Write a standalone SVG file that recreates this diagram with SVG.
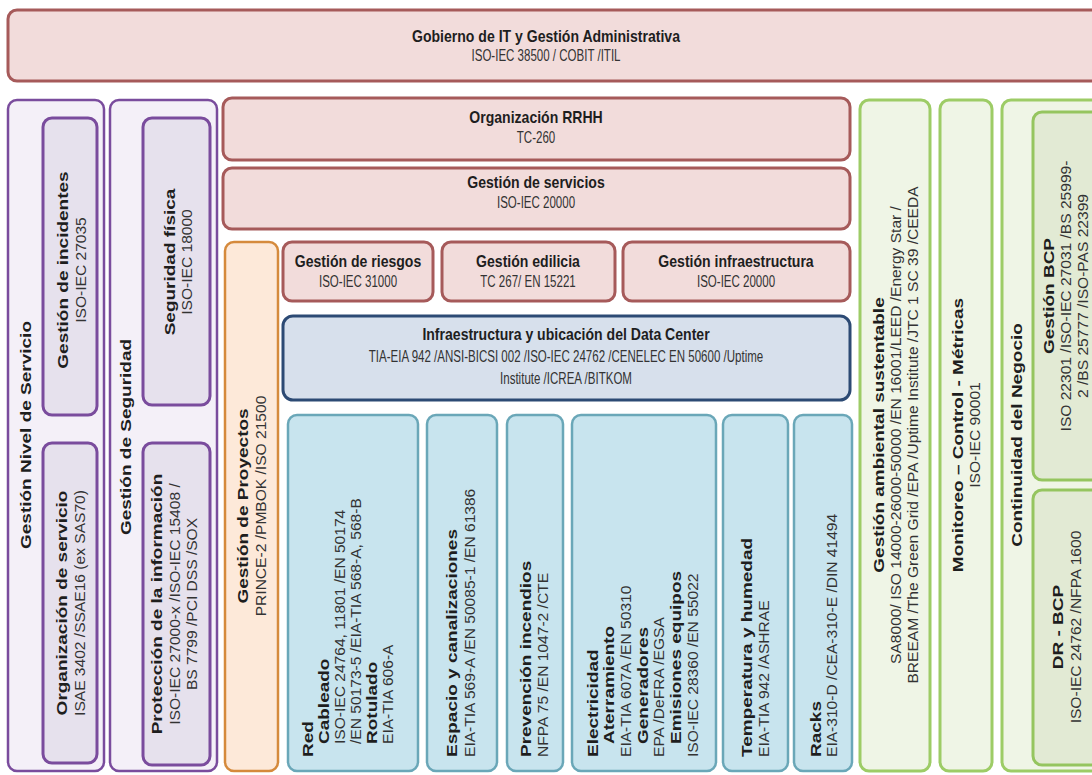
<svg xmlns="http://www.w3.org/2000/svg" width="1092" height="775" viewBox="0 0 1092 775">
<style>
 .red{fill:#f2dcdb;stroke:#a65a5a;stroke-width:3}
 .pout{fill:#f4f0f8;stroke:#7a4c9d;stroke-width:2.5}
 .pin{fill:#e6e1ed;stroke:#7a4c9d;stroke-width:3}
 .org{fill:#fde9d9;stroke:#d58a3c;stroke-width:2.5}
 .dc{fill:#d7e0ec;stroke:#2c4a74;stroke-width:3}
 .lb{fill:#c8e4ee;stroke:#6aa7b8;stroke-width:2.5}
 .gout{fill:#eff5e6;stroke:#9dcc66;stroke-width:3}
 .gin{fill:#e2ead4;stroke:#95c55f;stroke-width:3}
 text{font-family:"Liberation Sans",Arial,sans-serif;font-size:19px}
 .h{font-size:16.5px}
 .b{font-weight:bold;fill:#1e1e1e}
 .r{fill:#333333}
 .m{text-anchor:middle}
</style>
<rect width="1092" height="775" fill="#ffffff"/>

<g id="gobierno">
 <rect class="red" x="8" y="10" width="1100" height="71" rx="9"/>
 <text class="h b m" transform="translate(546,42) scale(0.852,1)">Gobierno de IT y Gestión Administrativa</text>
 <text class="h r m" transform="translate(546,61) scale(0.699,1)">ISO-IEC 38500 / COBIT /ITIL</text>
</g>

<g id="nivel-servicio">
 <rect class="pout" x="8" y="100" width="96" height="671" rx="9"/>
 <text class="b m" transform="translate(31,435) scale(0.74,1) rotate(-90)">Gestión Nivel de Servicio</text>
</g>
<g id="incidentes">
 <rect class="pin" x="43" y="118" width="54" height="297" rx="9"/>
 <text class="b m" transform="translate(68,270) scale(0.74,1) rotate(-90)">Gestión de incidentes</text>
 <text class="r m" transform="translate(86,270) scale(0.74,1) rotate(-90) scale(0.82,1)">ISO-IEC 27035</text>
</g>
<g id="org-servicio">
 <rect class="pin" x="43" y="443" width="54" height="320" rx="9"/>
 <text class="b m" transform="translate(67,603) scale(0.74,1) rotate(-90)">Organización de servicio</text>
 <text class="r m" transform="translate(85,603) scale(0.74,1) rotate(-90) scale(0.82,1)">ISAE 3402 /SSAE16 (ex SAS70)</text>
</g>

<g id="seguridad">
 <rect class="pout" x="110" y="100" width="107" height="671" rx="9"/>
 <text class="b m" transform="translate(131,437) scale(0.74,1) rotate(-90)">Gestión de Seguridad</text>
</g>
<g id="seg-fisica">
 <rect class="pin" x="143" y="118" width="67" height="287" rx="9"/>
 <text class="b m" transform="translate(175,262) scale(0.74,1) rotate(-90)">Seguridad física</text>
 <text class="r m" transform="translate(192,262) scale(0.74,1) rotate(-90) scale(0.82,1)">ISO-IEC 18000</text>
</g>
<g id="proteccion">
 <rect class="pin" x="143" y="443" width="67" height="322" rx="9"/>
 <text class="b m" transform="translate(162,604) scale(0.74,1) rotate(-90)">Protección de la información</text>
 <text class="r m" transform="translate(180,604) scale(0.74,1) rotate(-90) scale(0.82,1)">ISO-IEC 27000-x /ISO-IEC 15408 /</text>
 <text class="r m" transform="translate(197,604) scale(0.74,1) rotate(-90) scale(0.82,1)">BS 7799 /PCI DSS /SOX</text>
</g>

<g id="proyectos">
 <rect class="org" x="225" y="242" width="53" height="529" rx="9"/>
 <text class="b m" transform="translate(248,506) scale(0.74,1) rotate(-90)">Gestión de Proyectos</text>
 <text class="r m" transform="translate(266,506) scale(0.74,1) rotate(-90) scale(0.82,1)">PRINCE-2 /PMBOK /ISO 21500</text>
</g>

<g id="rrhh">
 <rect class="red" x="223" y="98" width="627" height="62" rx="9"/>
 <text class="h b m" transform="translate(536,123) scale(0.852,1)">Organización RRHH</text>
 <text class="h r m" transform="translate(536,143) scale(0.699,1)">TC-260</text>
</g>
<g id="servicios">
 <rect class="red" x="223" y="168" width="627" height="61" rx="9"/>
 <text class="h b m" transform="translate(536,188) scale(0.852,1)">Gestión de servicios</text>
 <text class="h r m" transform="translate(536,208) scale(0.699,1)">ISO-IEC 20000</text>
</g>
<g id="riesgos">
 <rect class="red" x="283" y="242" width="150" height="59" rx="9"/>
 <text class="h b m" transform="translate(358,267) scale(0.852,1)">Gestión de riesgos</text>
 <text class="h r m" transform="translate(358,287) scale(0.699,1)">ISO-IEC 31000</text>
</g>
<g id="edilicia">
 <rect class="red" x="442" y="242" width="173" height="59" rx="9"/>
 <text class="h b m" transform="translate(528,267) scale(0.852,1)">Gestión edilicia</text>
 <text class="h r m" transform="translate(528,287) scale(0.699,1)">TC 267/ EN 15221</text>
</g>
<g id="infraestructura">
 <rect class="red" x="623" y="242" width="227" height="59" rx="9"/>
 <text class="h b m" transform="translate(736,267) scale(0.852,1)">Gestión infraestructura</text>
 <text class="h r m" transform="translate(736,287) scale(0.699,1)">ISO-IEC 20000</text>
</g>
<g id="datacenter">
 <rect class="dc" x="283" y="316" width="567" height="84" rx="10"/>
 <text class="h b m" transform="translate(566,340) scale(0.852,1)">Infraestructura y ubicación del Data Center</text>
 <text class="h r m" transform="translate(566,362) scale(0.699,1)">TIA-EIA 942 /ANSI-BICSI 002 /ISO-IEC 24762 /CENELEC EN 50600 /Uptime</text>
 <text class="h r m" transform="translate(566,384) scale(0.699,1)">Institute /ICREA /BITKOM</text>
</g>

<g id="red">
 <rect class="lb" x="288" y="415" width="130" height="356" rx="9"/>
 <text class="b" transform="translate(313,757) scale(0.74,1) rotate(-90)">Red</text>
 <text class="b" transform="translate(329,744) scale(0.74,1) rotate(-90)">Cableado</text>
 <text class="r" transform="translate(345,744) scale(0.74,1) rotate(-90) scale(0.82,1)">ISO-IEC 24764, 11801 /EN 50174</text>
 <text class="r" transform="translate(361,744) scale(0.74,1) rotate(-90) scale(0.82,1)">/EN 50173-5 /EIA-TIA 568-A, 568-B</text>
 <text class="b" transform="translate(377,744) scale(0.74,1) rotate(-90)">Rotulado</text>
 <text class="r" transform="translate(393,744) scale(0.74,1) rotate(-90) scale(0.82,1)">EIA-TIA 606-A</text>
</g>
<g id="espacio">
 <rect class="lb" x="427" y="415" width="70" height="356" rx="9"/>
 <text class="b" transform="translate(457,757) scale(0.74,1) rotate(-90)">Espacio y canalizaciones</text>
 <text class="r" transform="translate(475,757) scale(0.74,1) rotate(-90) scale(0.82,1)">EIA-TIA 569-A /EN 50085-1 /EN 61386</text>
</g>
<g id="prevencion">
 <rect class="lb" x="507" y="415" width="56" height="356" rx="9"/>
 <text class="b" transform="translate(531,757) scale(0.74,1) rotate(-90)">Prevención incendios</text>
 <text class="r" transform="translate(548,757) scale(0.74,1) rotate(-90) scale(0.82,1)">NFPA 75 /EN 1047-2 /CTE</text>
</g>
<g id="electricidad">
 <rect class="lb" x="572" y="415" width="144" height="356" rx="9"/>
 <text class="b" transform="translate(598,757) scale(0.74,1) rotate(-90)">Electricidad</text>
 <text class="b" transform="translate(614,744) scale(0.74,1) rotate(-90)">Aterramiento</text>
 <text class="r" transform="translate(631,757) scale(0.74,1) rotate(-90) scale(0.82,1)">EIA-TIA 607A /EN 50310</text>
 <text class="b" transform="translate(648,744) scale(0.74,1) rotate(-90)">Generadores</text>
 <text class="r" transform="translate(664,757) scale(0.74,1) rotate(-90) scale(0.82,1)">EPA /DeFRA /EGSA</text>
 <text class="b" transform="translate(681,744) scale(0.74,1) rotate(-90)">Emisiones equipos</text>
 <text class="r" transform="translate(698,757) scale(0.74,1) rotate(-90) scale(0.82,1)">ISO-IEC 28360 /EN 55022</text>
</g>
<g id="temperatura">
 <rect class="lb" x="723" y="415" width="65" height="356" rx="9"/>
 <text class="b" transform="translate(752,757) scale(0.74,1) rotate(-90)">Temperatura y humedad</text>
 <text class="r" transform="translate(769,757) scale(0.74,1) rotate(-90) scale(0.82,1)">EIA-TIA 942 /ASHRAE</text>
</g>
<g id="racks">
 <rect class="lb" x="794" y="415" width="58" height="356" rx="9"/>
 <text class="b" transform="translate(821,757) scale(0.74,1) rotate(-90)">Racks</text>
 <text class="r" transform="translate(837,757) scale(0.74,1) rotate(-90) scale(0.82,1)">EIA-310-D /CEA-310-E /DIN 41494</text>
</g>

<g id="ambiental">
 <rect class="gout" x="860" y="100" width="70" height="671" rx="9"/>
 <text class="b m" transform="translate(884,435) scale(0.74,1) rotate(-90)">Gestión ambiental sustentable</text>
 <text class="r m" transform="translate(901,435) scale(0.74,1) rotate(-90) scale(0.82,1)">SA8000/ ISO 14000-26000-50000 /EN 16001/LEED /Energy Star /</text>
 <text class="r m" transform="translate(918,435) scale(0.74,1) rotate(-90) scale(0.82,1)">BREEAM /The Green Grid /EPA /Uptime Institute /JTC 1 SC 39 /CEEDA</text>
</g>
<g id="monitoreo">
 <rect class="gout" x="940" y="100" width="52" height="671" rx="9"/>
 <text class="b m" transform="translate(963,435) scale(0.74,1) rotate(-90)">Monitoreo – Control - Métricas</text>
 <text class="r m" transform="translate(980,435) scale(0.74,1) rotate(-90) scale(0.82,1)">ISO-IEC 90001</text>
</g>
<g id="continuidad">
 <rect class="gout" x="1002" y="100" width="100" height="671" rx="9"/>
 <text class="b m" transform="translate(1022,435) scale(0.74,1) rotate(-90)">Continuidad del Negocio</text>
</g>
<g id="gestion-bcp">
 <rect class="gin" x="1033" y="112" width="70" height="368" rx="9"/>
 <text class="b m" transform="translate(1054,296) scale(0.74,1) rotate(-90)">Gestión BCP</text>
 <text class="r m" transform="translate(1071,296) scale(0.74,1) rotate(-90) scale(0.82,1)">ISO 22301 /ISO-IEC 27031 /BS 25999-</text>
 <text class="r m" transform="translate(1088,296) scale(0.74,1) rotate(-90) scale(0.82,1)">2 /BS 25777 /ISO-PAS 22399</text>
</g>
<g id="dr-bcp">
 <rect class="gin" x="1033" y="490" width="70" height="275" rx="9"/>
 <text class="b m" transform="translate(1063,627) scale(0.74,1) rotate(-90)">DR - BCP</text>
 <text class="r m" transform="translate(1081,627) scale(0.74,1) rotate(-90) scale(0.82,1)">ISO-IEC 24762 /NFPA 1600</text>
</g>

<g id="connectors"/>
</svg>
